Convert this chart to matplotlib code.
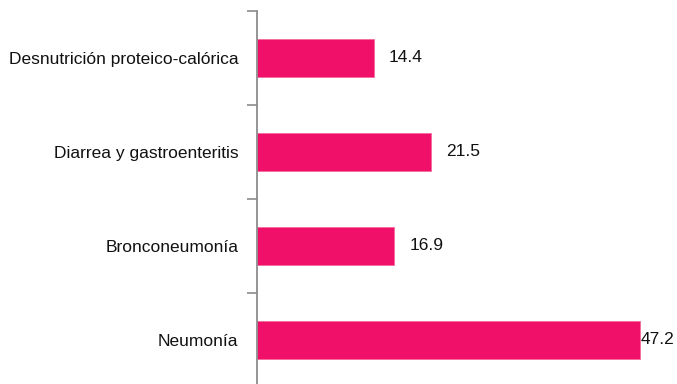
import matplotlib
matplotlib.use("Agg")
import matplotlib.pyplot as plt
import numpy as np

plt.rcParams["font.family"] = ["Liberation Sans", "DejaVu Sans"]

causes = [
    "Desnutrición proteico-calórica",
    "Diarrea y gastroenteritis",
    "Bronconeumonía",
    "Neumonía",
]
values = [14.4, 21.5, 16.9, 47.2]

bar_color = "#F0106A"
axis_color = "#8C8C8C"

fig = plt.figure(figsize=(6.77, 3.84), dpi=100)
fig.patch.set_facecolor("white")
ax = fig.add_axes([257 / 677, -3 / 384, 420 / 677, 376 / 384])

y = np.arange(len(causes))
ax.barh(y, values, height=0.4, color=bar_color, edgecolor="#F46A9B", linewidth=0.6)

ax.set_xlim(0, 51.8)
ax.set_ylim(len(causes) - 0.5, -0.5)

# labels at category centres, tick marks at category boundaries
ax.set_yticks(y)
ax.set_yticklabels(causes, fontsize=12.5, color="#111111")
ax.tick_params(axis="y", which="major", length=0, pad=13.5)
ax.set_yticks(np.arange(-0.5, len(causes)), minor=True)
ax.tick_params(axis="y", which="minor", length=7, width=1.2, color=axis_color)
ax.set_xticks([])

for side in ["top", "right", "bottom"]:
    ax.spines[side].set_visible(False)
ax.spines["left"].set_color(axis_color)
ax.spines["left"].set_linewidth(1.3)

# value labels; keep the longest one inside the figure
for yi, v in zip(y, values):
    room = (51.8 - v) * 420 / 51.8 - 36
    off = max(1, min(11, room * 0.72))
    ax.annotate(f"{v:.1f}", xy=(v, yi), xytext=(off, 0), textcoords="offset points",
                va="center", ha="left", fontsize=12.5, color="#111111")

fig.savefig("out.png", dpi=100, facecolor="white")
